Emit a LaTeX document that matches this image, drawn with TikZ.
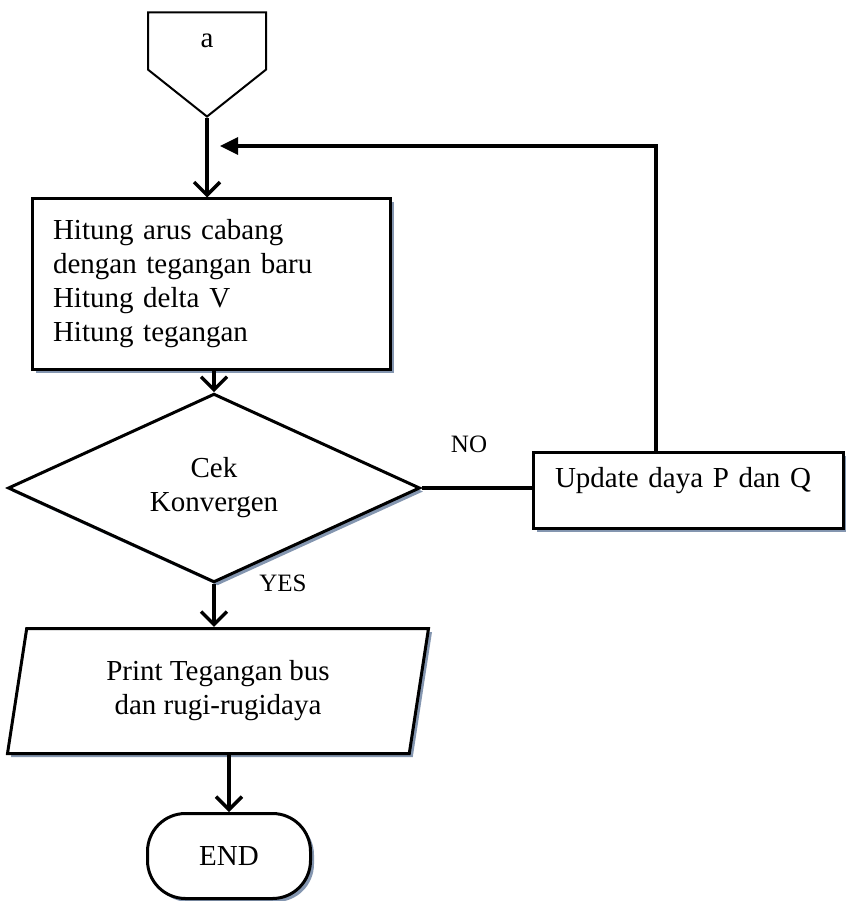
\documentclass[tikz,border=0pt]{standalone}
\usepackage{fontspec}
\setmainfont{Liberation Serif}
\usepackage{tikz}
\usetikzlibrary{arrows.meta,shapes.geometric,shapes.symbols,shadows}
\definecolor{shade}{HTML}{8496B0}
\tikzset{
  base/.style={draw=black, line width=3pt, fill=white, font=\fontsize{29}{34}\selectfont},
  shd/.style={drop shadow={shadow xshift=3.5pt, shadow yshift=-3.5pt, fill=shade, opacity=1}},
  proc/.style={base, shd, rectangle, align=left},
  decide/.style={base, shd, diamond, align=center, inner sep=0pt},
  io/.style={base, shd, trapezium, trapezium left angle=74, trapezium right angle=106,
    trapezium stretches body, align=center},
  term/.style={base, shd, rectangle, rounded corners=38pt},
  offpage/.style={base, line width=2pt, signal, signal to=south, signal pointer angle=103},
  flow/.style={line width=3.4pt, -{Straight Barb[length=13pt, width=26pt]}},
  back/.style={line width=3.4pt, -{Triangle[length=18pt, width=17pt]}},
  lbl/.style={font=\fontsize{25}{30}\selectfont}
}

\begin{document}
\begin{tikzpicture}[x=1pt, y=-1pt]
\useasboundingbox (0,0) rectangle (845,901);
% connector
\node[offpage, minimum width=118pt, minimum height=65pt] (a) at (207,41) {a};
% blocks
\node[proc, minimum width=358pt, minimum height=170pt, text width=316pt] (calc) at (211,284)
  {Hitung arus cabang\\dengan tegangan baru\\Hitung delta V\\Hitung tegangan};
\node[decide, minimum width=412pt, minimum height=150pt] (check) at (214,488) {Cek\\Konvergen};
\node[proc, minimum width=310pt, minimum height=76pt, text width=266pt, text depth=26pt] (update)
  at (688,490) {Update daya P dan Q};
\node[io, minimum width=421pt, minimum height=125pt] (print) at (218,691)
  {Print Tegangan bus\\dan rugi-rugidaya};
\node[term, minimum width=163pt, minimum height=85pt] (end) at (229,856) {END};
\coordinate (loopin) at (220,146);

% arrows
\draw[flow] (a.south) -- (a.south |- calc.north);
\draw[flow] (check.north |- calc.south) -- (check.north);
\draw[line width=3.4pt] (check.east) -- (check.east -| update.west);
\draw[back] ([xshift=-32pt]update.north) |- (loopin);
\draw[flow] (check.south) -- (check.south |- print.north);
\draw[flow] (end.north |- print.south) -- (end.north);

\node[lbl] (no) at (469,444) {NO};
\node[lbl] (yes) at (283,583) {YES};
\end{tikzpicture}
\end{document}
